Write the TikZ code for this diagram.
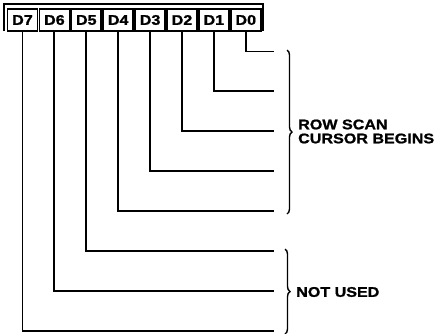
\documentclass[tikz,border=0pt]{standalone}
\usepackage{fontspec}
\newfontfamily\notefont[FakeStretch=1.15,FakeBold=1.2]{Liberation Sans Bold}
\newcommand\notesize{\fontsize{14}{14}\selectfont}
\usetikzlibrary{decorations.pathreplacing}

\tikzset{
  bitbox/.style={draw,line width=1.8pt,minimum width=30pt,minimum height=22pt,inner sep=0pt,font=\notefont\notesize},
  wire/.style={line width=1.9pt},
  grp/.style={line width=1.4pt,decorate,decoration={brace,amplitude=5pt}},
  note/.style={anchor=west,align=left,inner sep=0pt,font=\notefont\notesize}
}

\begin{document}
\begin{tikzpicture}[x=1pt,y=-1pt]
\useasboundingbox (0,0) rectangle (441,333);
% register bits
\node[bitbox] (d7) at (22.5,20) {D7};
\node[bitbox] (d6) at (54.4,20) {D6};
\node[bitbox] (d5) at (86.3,20) {D5};
\node[bitbox] (d4) at (118.2,20) {D4};
\node[bitbox] (d3) at (150.1,20) {D3};
\node[bitbox] (d2) at (182,20) {D2};
\node[bitbox] (d1) at (213.9,20) {D1};
\node[bitbox] (d0) at (245.8,20) {D0};
\draw[line width=1.8pt] (4,31) |- (263,4) -- (263,31);
% line ends
\coordinate (e0) at (274,51.5);
\coordinate (e1) at (274,91.4);
\coordinate (e2) at (274,131.3);
\coordinate (e3) at (274,171.2);
\coordinate (e4) at (274,211.1);
\coordinate (e5) at (274,251);
\coordinate (e6) at (274,290.9);
\coordinate (e7) at (274,330.8);
\draw[wire] (d0.south) |- (e0);
\draw[wire] (d1.south) |- (e1);
\draw[wire] (d2.south) |- (e2);
\draw[wire] (d3.south) |- (e3);
\draw[wire] (d4.south) |- (e4);
\draw[wire] (d5.south) |- (e5);
\draw[wire] (d6.south) |- (e6);
\draw[wire] (d7.south) |- (e7);
% groups
\coordinate (b1top) at (287,50);
\coordinate (b1bot) at (287,214);
\coordinate (b2top) at (285,249);
\coordinate (b2bot) at (285,334);
\draw[grp] (b1top) -- (b1bot);
\draw[grp] (b2top) -- (b2bot);
\node[note] (rowscan) at (298,131.5) {ROW SCAN\\CURSOR BEGINS};
\node[note] (notused) at (296,292) {NOT USED};
\end{tikzpicture}
\end{document}
